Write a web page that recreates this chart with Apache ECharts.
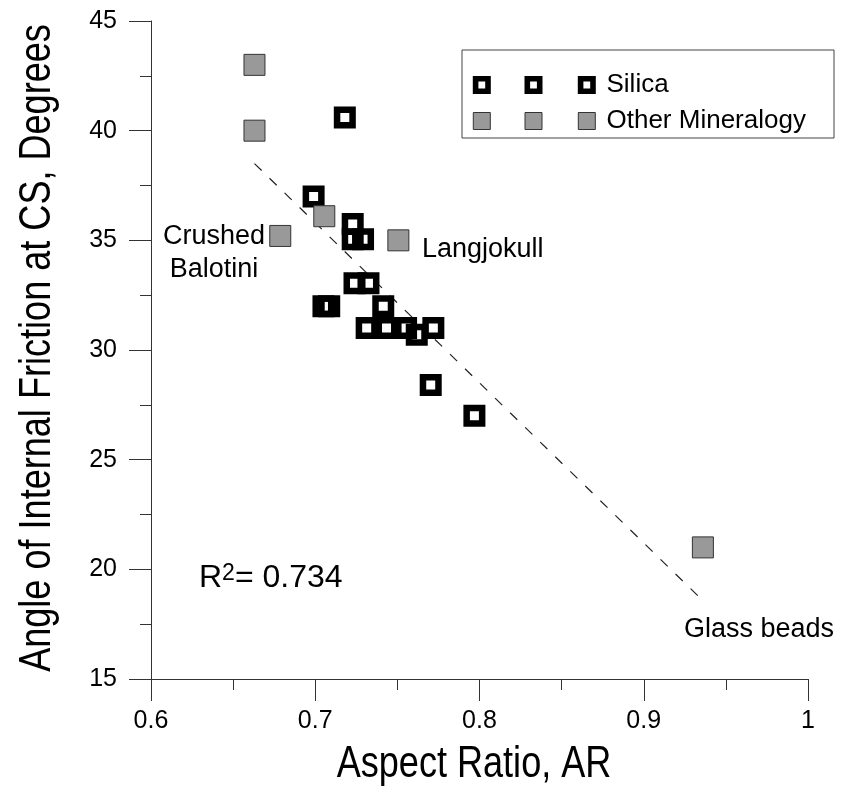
<!DOCTYPE html>
<html><head><meta charset="utf-8">
<script src="https://cdn.jsdelivr.net/npm/echarts@6/dist/echarts.min.js"></script>
<style>html,body{margin:0;padding:0;background:#fff}#c{width:842px;height:790px}</style>
</head><body><div id="c"></div>
<script>
// Silica (hollow black squares)
const silicaAR  = [0.718, 0.699, 0.7228, 0.7228, 0.7291, 0.7239, 0.7324, 0.7050, 0.7085, 0.7414, 0.7313, 0.7434, 0.7553, 0.7719, 0.7618, 0.7703, 0.7969];
const silicaPhi = [40.6, 37.0, 35.75, 35.05, 35.05, 33.04, 33.04, 32.0, 32.0, 32.0, 31.0, 31.0, 31.0, 31.0, 30.7, 28.4, 27.0];
// Other mineralogy (grey squares)
const otherAR  = [0.663, 0.663, 0.7055, 0.6787, 0.7506, 0.936];
const otherPhi = [43.0, 40.0, 36.1, 35.2, 35.0, 21.0];
// Regression line end points
const trendAR  = [0.663, 0.937];
const trendPhi = [38.5, 18.5];
// Axis ranges / ticks
const xTicks = [0.6, 0.7, 0.8, 0.9, 1.0];
const yTicks = [15, 20, 25, 30, 35, 40, 45];

const zip = (a, b) => a.map((v, i) => [v, b[i]]);
const FONT = "'Liberation Sans', Arial, sans-serif";

const chart = echarts.init(document.getElementById('c'), null, {renderer: 'canvas'});

const axisCommon = {
  axisLine: {show: true, onZero: false, lineStyle: {color: '#333', width: 1}},
  axisTick: {show: true, inside: false, length: 22, lineStyle: {color: '#333', width: 1}},
  minorTick: {show: true, splitNumber: 2, length: 11, lineStyle: {color: '#333', width: 1}},
  splitLine: {show: false},
  minorSplitLine: {show: false}
};

const legendItems = [
  {cy: 85, text: 'Silica', kind: 'silica'},
  {cy: 121, text: 'Other Mineralogy', kind: 'other'}
];
const legendIconX = [481.8, 533.5, 586.8];
const graphics = [
  {type: 'rect', shape: {x: 462, y: 50, width: 372, height: 88}, style: {fill: '#fff', stroke: '#444', lineWidth: 1}, z: 10}
];
legendItems.forEach(it => {
  legendIconX.forEach(cx => {
    if (it.kind === 'silica') {
      graphics.push({type: 'rect', shape: {x: cx - 6.2, y: it.cy - 6.2, width: 12.4, height: 12.4},
        style: {fill: 'none', stroke: '#000', lineWidth: 5.6}, z: 11});
    } else {
      graphics.push({type: 'rect', shape: {x: cx - 8.5, y: it.cy - 8.5, width: 17, height: 17},
        style: {fill: '#999', stroke: '#333', lineWidth: 1}, z: 11});
    }
  });
  graphics.push({type: 'text', x: 606.5, y: it.cy, z: 11,
    style: {text: it.text, fontSize: 26, fontFamily: FONT, fill: '#000', align: 'left', verticalAlign: 'middle'}});
});
// axis titles (condensed, like Arial Narrow)
graphics.push(
  {type: 'text', x: 474, y: 765, scaleX: 0.82, z: 11, style: {text: 'Aspect Ratio, AR', fontSize: 44, fontFamily: FONT, fill: '#000', align: 'center', verticalAlign: 'middle'}},
  {type: 'text', x: 38, y: 348, rotation: Math.PI / 2, scaleX: 0.82, z: 11, style: {text: 'Angle of Internal Friction at CS, Degrees', fontSize: 44, fontFamily: FONT, fill: '#000', align: 'center', verticalAlign: 'middle'}}
);
// annotations
graphics.push(
  {type: 'text', x: 214, y: 253.5, z: 11, style: {text: 'Crushed\nBalotini', fontSize: 27, lineHeight: 33, fontFamily: FONT, fill: '#000', align: 'center', verticalAlign: 'middle'}},
  {type: 'text', x: 422, y: 250, z: 11, style: {text: 'Langjokull', fontSize: 27, fontFamily: FONT, fill: '#000', align: 'left', verticalAlign: 'middle'}},
  {type: 'text', x: 684, y: 630, z: 11, style: {text: 'Glass beads', fontSize: 27, fontFamily: FONT, fill: '#000', align: 'left', verticalAlign: 'middle'}},
  {type: 'text', x: 199, y: 578, z: 11, style: {text: '{r|R}{s|2}{r|= 0.734}', fontFamily: FONT, fill: '#000', align: 'left', verticalAlign: 'middle',
    rich: {r: {fontSize: 32, fontFamily: FONT, fill: '#000'}, s: {fontSize: 23, fontFamily: FONT, fill: '#000', verticalAlign: 'top'}}}}
);

chart.setOption({
  animation: false,
  backgroundColor: '#fff',
  grid: {left: 151, right: 34, top: 21, bottom: 111, containLabel: false, outerBoundsMode: 'none'},
  xAxis: Object.assign({
    type: 'value', min: xTicks[0], max: xTicks[xTicks.length - 1], interval: 0.1,
    axisLabel: {margin: 30, fontSize: 25, fontFamily: FONT, color: '#000'}
  }, axisCommon),
  yAxis: Object.assign({
    type: 'value', min: yTicks[0], max: yTicks[yTicks.length - 1], interval: 5,
    axisLabel: {margin: 34, fontSize: 25, fontFamily: FONT, color: '#000'}
  }, axisCommon),
  graphic: graphics,
  series: [
    {type: 'line', data: zip(trendAR, trendPhi), symbol: 'none', silent: true, z: 1,
     lineStyle: {color: '#222', width: 1.2, type: [10, 11]}},
    {type: 'scatter', name: 'Silica', data: zip(silicaAR, silicaPhi), symbol: 'rect', symbolSize: 15.5, z: 2,
     itemStyle: {color: 'rgba(255,255,255,0)', borderColor: '#000', borderWidth: 6.5, opacity: 1}, emphasis: {disabled: true}},
    {type: 'scatter', name: 'Other Mineralogy', data: zip(otherAR, otherPhi), symbol: 'rect', symbolSize: 21, z: 3,
     itemStyle: {color: '#999', borderColor: '#333', borderWidth: 1, opacity: 1}, emphasis: {disabled: true}}
  ]
});
</script></body></html>
